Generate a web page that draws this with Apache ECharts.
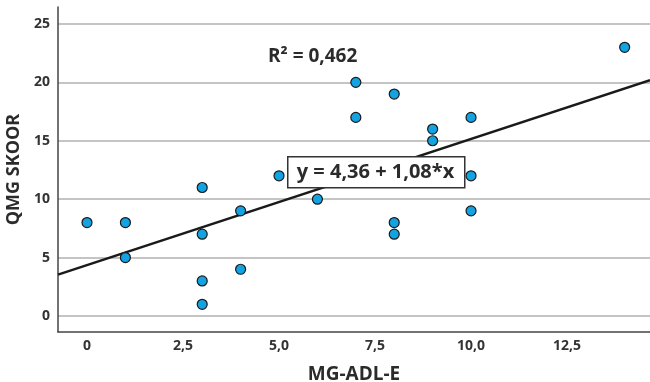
<!DOCTYPE html>
<html>
<head>
<meta charset="utf-8">
<script src="https://cdn.jsdelivr.net/npm/echarts@6/dist/echarts.min.js"></script>
<style>
html, body { margin: 0; padding: 0; background: #fff; }
#main { width: 650px; height: 382px; }
</style>
</head>
<body>
<div id="main"></div>
<script>
// data
var xValues = [0, 1, 1, 3, 3, 3, 3, 4, 4, 5, 6, 7, 7, 8, 8, 8, 9, 9, 10, 10, 10, 14];
var yValues = [8, 8, 5, 11, 7, 3, 1, 9, 4, 12, 10, 20, 17, 19, 8, 7, 16, 15, 17, 12, 9, 23];
var xTicks = [0, 2.5, 5, 7.5, 10, 12.5];
var yTicks = [0, 5, 10, 15, 20, 25];
var intercept = 4.36;
var slope = 1.08;
var rSquared = '0,462';

var xMin = -0.755, xMax = 14.66;
var yMin = -1.37, yMax = 26.45;

var points = [];
for (var i = 0; i < xValues.length; i++) {
    points.push([xValues[i], yValues[i]]);
}
var fitLine = [[xMin, intercept + slope * xMin], [xMax, intercept + slope * xMax]];

var font = '"Open Sans", sans-serif';
var textColor = '#2b2b2b';

var myChart = echarts.init(document.getElementById('main'));
var option = {
    animation: false,
    grid: { left: 58, right: 0, top: 7, bottom: 50, containLabel: false, outerBoundsMode: 'none' },
    xAxis: {
        type: 'value',
        min: xMin,
        max: xMax,
        name: 'MG-ADL-E',
        nameLocation: 'middle',
        nameGap: 33,
        nameTextStyle: { fontFamily: font, fontWeight: 'bold', fontSize: 19, color: textColor },
        axisLine: { show: true, onZero: false, lineStyle: { color: '#444', width: 1.5 } },
        axisTick: { show: false, customValues: xTicks },
        splitLine: { show: false },
        axisLabel: {
            customValues: xTicks,
            fontFamily: font, fontWeight: 'bold', fontSize: 14, color: '#333', margin: 7,
            formatter: function (v) { return v === 0 ? '0' : v.toFixed(1).replace('.', ','); }
        }
    },
    yAxis: {
        type: 'value',
        min: yMin,
        max: yMax,
        name: 'QMG SKOOR',
        nameLocation: 'middle',
        nameGap: 30,
        nameTextStyle: { fontFamily: font, fontWeight: 'bold', fontSize: 18, color: textColor },
        axisLine: { show: true, onZero: false, lineStyle: { color: '#444', width: 1.5 } },
        axisTick: { show: false, customValues: yTicks },
        splitLine: { show: true, lineStyle: { color: '#b0b0b0', width: 1.5 } },
        axisLabel: {
            customValues: yTicks,
            fontFamily: font, fontWeight: 'bold', fontSize: 14, color: '#333', margin: 8
        }
    },
    graphic: [
        {
            type: 'text', left: 268, top: 47, z: 100,
            style: { text: 'R\u00b2 = ' + rSquared, font: 'bold 19px ' + font, fill: textColor }
        },
        {
            type: 'rect', left: 287, top: 156, z: 100,
            shape: { x: 0, y: 0, width: 177, height: 31 },
            style: { fill: '#fff', stroke: '#333', lineWidth: 1.5 }
        },
        {
            type: 'text', x: 375.5, y: 172, z: 101,
            style: { text: 'y = ' + intercept.toFixed(2).replace('.', ',') + ' + ' + slope.toFixed(2).replace('.', ',') + '*x',
                     font: 'bold 20px ' + font, fill: textColor, align: 'center', verticalAlign: 'middle' }
        }
    ],
    series: [
        {
            type: 'line',
            data: fitLine,
            symbol: 'none',
            lineStyle: { color: '#1a1a1a', width: 2.5 },
            z: 2
        },
        {
            type: 'scatter',
            data: points,
            symbolSize: 10,
            itemStyle: { color: '#12a3e3', borderColor: '#1a1a1a', borderWidth: 1.2, opacity: 1 },
            z: 3
        }
    ]
};
myChart.setOption(option);
</script>
</body>
</html>
